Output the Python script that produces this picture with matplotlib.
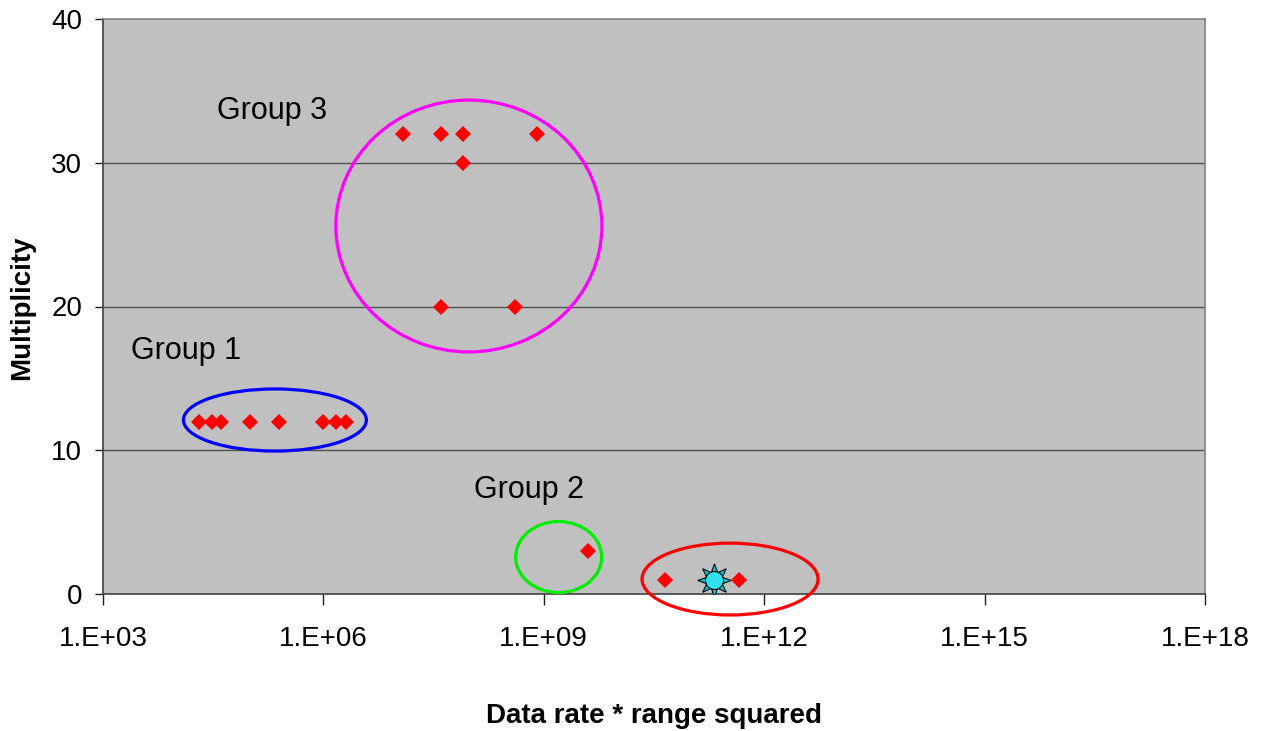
import matplotlib
matplotlib.use("Agg")
import matplotlib.pyplot as plt
from matplotlib.patches import Ellipse

plt.rcParams['font.family'] = ['Liberation Sans', 'DejaVu Sans']

# Data
group1_x = [2.0e4, 3.0e4, 4.1e4, 1.0e5, 2.5e5, 1.0e6, 1.5e6, 2.0e6]
group1_y = [12, 12, 12, 12, 12, 12, 12, 12]
group3_x = [1.2e7, 4.0e7, 8.0e7, 8.0e8, 8.0e7, 4.0e7, 4.0e8]
group3_y = [32, 32, 32, 32, 30, 20, 20]
group2_x = [4.0e9]
group2_y = [3]
red_x = [4.5e10, 4.5e11]
red_y = [1, 1]
special_x = [2.1e11]
special_y = [1]

xticks = [1e3, 1e6, 1e9, 1e12, 1e15, 1e18]
xtick_labels = ["1.E+03", "1.E+06", "1.E+09", "1.E+12", "1.E+15", "1.E+18"]
yticks = [0, 10, 20, 30, 40]

W, H = 1261, 731
fig = plt.figure(figsize=(W / 100, H / 100), dpi=100)
ax = fig.add_axes([103 / W, 1 - 594 / H, 1102 / W, 575 / H])
ax.set_facecolor('#C0C0C0')
ax.set_xscale('log')
ax.set_xlim(1e3, 1e18)
ax.set_ylim(0, 40)
ax.set_xticks(xticks)
ax.set_xticklabels(xtick_labels)
ax.xaxis.set_minor_locator(matplotlib.ticker.NullLocator())
ax.set_yticks(yticks)
ax.tick_params(axis='both', labelsize=20, colors='black', direction='out', length=6, width=1)
ax.tick_params(axis='x', length=8, pad=15, color='#202020')
ax.tick_params(axis='y', color='#202020', pad=9)
for t in [10, 20, 30]:
    ax.axhline(t, color='#505050', lw=1.0, zorder=1)
for s in ['left', 'bottom']:
    ax.spines[s].set_color('#404040')
    ax.spines[s].set_linewidth(1.2)
for s in ['top', 'right']:
    ax.spines[s].set_color('#808080')
    ax.spines[s].set_linewidth(1.2)

allx = group1_x + group3_x + group2_x + red_x
ally = group1_y + group3_y + group2_y + red_y
ax.plot(allx, ally, linestyle='none', marker='D', markersize=8.5,
        color='#FF0000', markeredgewidth=0, zorder=5, clip_on=False)

# special "sun" marker
ax.plot(special_x, special_y, linestyle='none', marker=(8, 1, 0), markersize=24,
        color='#00CCDD', markeredgecolor='black', markeredgewidth=0.8, zorder=6)
ax.plot(special_x, special_y, linestyle='none', marker='o', markersize=13,
        color='#33E0F0', markeredgecolor='black', markeredgewidth=0.8, zorder=7)

ells = [
    ((0.156, 0.3026), 0.166, 0.108, '#0000FF'),
    ((0.332, 0.640), 0.2414, 0.438, '#FF00FF'),
    ((0.4135, 0.0643), 0.078, 0.1235, '#00EE00'),
    ((0.569, 0.026), 0.1597, 0.125, '#FF0000'),
]
for c, w, h, col in ells:
    e = Ellipse(c, w, h, transform=ax.transAxes, fill=False, edgecolor=col,
                lw=2.3, clip_on=False, zorder=8)
    ax.add_patch(e)

fig.text(217 / W, 1 - 111 / H, "Group 3", fontsize=22, va='center', ha='left')
fig.text(131 / W, 1 - 351 / H, "Group 1", fontsize=22, va='center', ha='left')
fig.text(474 / W, 1 - 490 / H, "Group 2", fontsize=22, va='center', ha='left')

fig.text(654 / W, 1 - 716 / H, "Data rate * range squared", fontsize=20,
         fontweight='bold', ha='center', va='center')
fig.text(22 / W, 1 - 308 / H, "Multiplicity", fontsize=20, fontweight='bold',
         rotation=90, ha='center', va='center')

fig.savefig("out.png", dpi=100)
